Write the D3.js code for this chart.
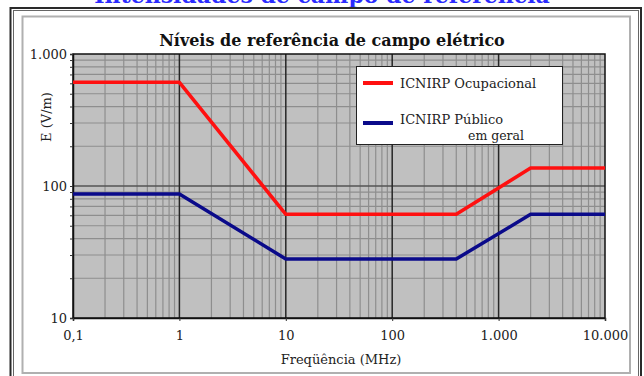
<!DOCTYPE html>
<html>
<head>
<meta charset="utf-8">
<script src="https://cdn.jsdelivr.net/npm/d3@7/dist/d3.min.js"></script>
<style>
  html, body { margin: 0; padding: 0; background: #fff; }
  svg { display: block; }
  text { font-family: "DejaVu Serif", "Liberation Serif", serif; }
</style>
</head>
<body>
<svg id="chart" width="644" height="376"></svg>
<script>
// Frequencies (MHz) at the breakpoints of the reference-level curves
const freqs = [0.1, 1, 10, 400, 2000, 10000];
// Electric field reference levels (V/m)
const occupational = [610, 610, 61, 61, 137, 137];
const generalPublic = [87, 87, 28, 28, 61, 61];

const xTickValues = [0.1, 1, 10, 100, 1000, 10000];
const yTickValues = [10, 100, 1000];

const seriesNames = ["ICNIRP Ocupacional", "ICNIRP Público"];
const seriesNote = "em geral";
const chartTitle = "Níveis de referência de campo elétrico";
const pageTitle = "Intensidades de campo de referência";
const xTitle = "Freqüência (MHz)";
const yTitle = "E (V/m)";

const W = 644, H = 376;
const plot = { left: 73, right: 605, top: 54, bottom: 318 };

const svg = d3.select("#chart");

// number format with Portuguese separators
const pt = d3.formatLocale({ decimal: ",", thousands: ".", grouping: [3], currency: ["R$", ""] });
const fmt = v => v < 1 ? pt.format(",.1f")(v) : pt.format(",.0f")(v);

// page heading, partly above the visible area
svg.append("text")
  .attr("x", 322).attr("y", 3)
  .attr("text-anchor", "middle")
  .attr("font-size", 22).attr("font-weight", "bold")
  .attr("fill", "#2b2bff")
  .text(pageTitle);

// outer frame
svg.append("rect").attr("x", 10.5).attr("y", 8).attr("width", 630.5).attr("height", 380)
  .attr("fill", "none").attr("stroke", "#2a2a2a").attr("stroke-width", 2);
svg.append("rect").attr("x", 13.5).attr("y", 10.5).attr("width", 625).attr("height", 380)
  .attr("fill", "none").attr("stroke", "#666").attr("stroke-width", 1);
// inner panel
svg.append("rect").attr("x", 22.5).attr("y", 16.5).attr("width", 607.5).attr("height", 356.5)
  .attr("fill", "#fff").attr("stroke", "#b0b0b0").attr("stroke-width", 2);

const x = d3.scaleLog().domain([0.1, 10000]).range([plot.left, plot.right]);
const y = d3.scaleLog().domain([10, 1000]).range([plot.bottom, plot.top]);

// plot background
svg.append("rect")
  .attr("x", plot.left).attr("y", plot.top)
  .attr("width", plot.right - plot.left).attr("height", plot.bottom - plot.top)
  .attr("fill", "#c0c0c0");

const isDecade = v => Math.abs(Math.log10(v) - Math.round(Math.log10(v))) < 1e-9;
const xAll = x.ticks(); // 1-9 per decade
const yAll = y.ticks();

const grid = svg.append("g");
// minor gridlines
grid.selectAll("line.xmin").data(xAll.filter(v => !isDecade(v)))
  .join("line").attr("class", "xmin")
  .attr("x1", d => x(d)).attr("x2", d => x(d))
  .attr("y1", plot.top).attr("y2", plot.bottom)
  .attr("stroke", "#8e8e8e").attr("stroke-width", 1.2);
grid.selectAll("line.ymin").data(yAll.filter(v => !isDecade(v)))
  .join("line").attr("class", "ymin")
  .attr("y1", d => y(d)).attr("y2", d => y(d))
  .attr("x1", plot.left).attr("x2", plot.right)
  .attr("stroke", "#8e8e8e").attr("stroke-width", 1.2);
// decade gridlines
grid.selectAll("line.ymaj").data(yTickValues.slice(1, -1))
  .join("line").attr("class", "ymaj")
  .attr("y1", d => y(d)).attr("y2", d => y(d))
  .attr("x1", plot.left).attr("x2", plot.right)
  .attr("stroke", "#555").attr("stroke-width", 1.5);
grid.selectAll("line.xmaj").data(xTickValues.slice(1, -1))
  .join("line").attr("class", "xmaj")
  .attr("x1", d => x(d)).attr("x2", d => x(d))
  .attr("y1", plot.top).attr("y2", plot.bottom)
  .attr("stroke", "#262626").attr("stroke-width", 1.5);

// plot border
svg.append("rect")
  .attr("x", plot.left).attr("y", plot.top)
  .attr("width", plot.right - plot.left).attr("height", plot.bottom - plot.top)
  .attr("fill", "none").attr("stroke", "#111").attr("stroke-width", 1.5);

// axes
const yAxis = d3.axisLeft(y)
  .tickValues(yAll)
  .tickFormat(d => yTickValues.includes(d) ? fmt(d) : "")
  .tickSize(3).tickPadding(3);
const gy = svg.append("g").attr("transform", `translate(${plot.left},0)`).call(yAxis);
gy.select(".domain").attr("stroke", "#111").attr("stroke-width", 1.5);
gy.selectAll(".tick line").attr("stroke", "#333");
gy.selectAll(".tick text").attr("font-size", 13).attr("fill", "#222")
  .attr("font-family", "DejaVu Serif, serif");

const xAxis = d3.axisBottom(x)
  .tickValues(xTickValues)
  .tickFormat(fmt)
  .tickSize(3).tickPadding(10);
const gx = svg.append("g").attr("transform", `translate(0,${plot.bottom})`).call(xAxis);
gx.select(".domain").attr("stroke", "#111").attr("stroke-width", 1.5);
gx.selectAll(".tick line").attr("stroke", "#333");
gx.selectAll(".tick text").attr("font-size", 13).attr("fill", "#222")
  .attr("font-family", "DejaVu Serif, serif");

// series lines
const line = d3.line().x(d => x(d[0])).y(d => y(d[1]));
svg.append("path")
  .datum(freqs.map((f, i) => [f, occupational[i]]))
  .attr("d", line).attr("fill", "none")
  .attr("stroke", "#ff1010").attr("stroke-width", 3.5).attr("stroke-linejoin", "round");
svg.append("path")
  .datum(freqs.map((f, i) => [f, generalPublic[i]]))
  .attr("d", line).attr("fill", "none")
  .attr("stroke", "#0a0a8a").attr("stroke-width", 3.5).attr("stroke-linejoin", "round");

// titles
svg.append("text")
  .attr("x", 332).attr("y", 46)
  .attr("text-anchor", "middle")
  .attr("font-size", 16).attr("font-weight", "bold").attr("fill", "#111")
  .text(chartTitle);
svg.append("text")
  .attr("x", 341).attr("y", 364)
  .attr("text-anchor", "middle")
  .attr("font-size", 13).attr("fill", "#222")
  .text(xTitle);
svg.append("text")
  .attr("transform", "translate(51,117) rotate(-90)")
  .attr("text-anchor", "middle")
  .attr("font-size", 13).attr("fill", "#222")
  .text(yTitle);

// legend
const lg = svg.append("g");
lg.append("rect").attr("x", 356.5).attr("y", 66.5).attr("width", 206).attr("height", 78)
  .attr("fill", "#fff").attr("stroke", "#222").attr("stroke-width", 1);
const colors = ["#ff1010", "#0a0a8a"];
const rowY = [83, 123];
const textY = [88, 124];
seriesNames.forEach((name, i) => {
  lg.append("line").attr("x1", 363).attr("x2", 393)
    .attr("y1", rowY[i]).attr("y2", rowY[i])
    .attr("stroke", colors[i]).attr("stroke-width", 4);
  lg.append("text").attr("x", 400).attr("y", textY[i])
    .attr("font-size", 13).attr("fill", "#222").text(name);
});
lg.append("text").attr("x", 468).attr("y", 140)
  .attr("font-size", 12.5).attr("fill", "#222").text(seriesNote);
</script>
</body>
</html>
